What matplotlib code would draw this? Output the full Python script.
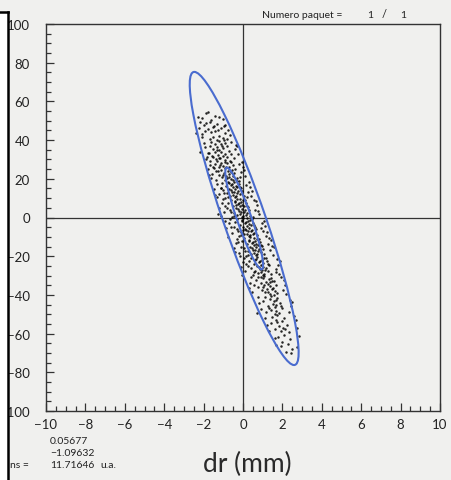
import numpy as np
import matplotlib.pyplot as plt
from matplotlib.patches import Ellipse, Rectangle
from matplotlib.lines import Line2D

plt.rcParams['font.family'] = ['Lato', 'DejaVu Sans']

# Points du nuage (dr en mm, y en u.a.) - coeur du nuage
pts_x = [-1.9, -1.4, -2.1, -1.6, -1.2, -1.8,
         -1.7, -1.3, -2.0, -1.5, -1.1, -1.8, -1.4, -1.6, -0.9, -2.1, -1.2, -1.5, -1.0, -1.7, -1.3, -1.9, -1.45, -1.25,
         -1.2, -1.6, -0.9, -1.4, -1.1, -1.7, -0.8, -1.3, -1.0, -1.5, -1.2, -0.7, -1.4, -1.1, -1.8, -0.9, -1.25, -1.0,
         -1.5, -0.8, -1.15, -1.35, -0.6, -1.05, -1.55, -0.95, -1.3, -1.2,
         -0.9, -1.3, -0.6, -1.1, -0.8, -1.4, -0.5, -1.0, -0.7, -1.2, -0.9, -0.4, -1.1, -0.75, -1.35, -0.6, -0.95, -0.7,
         -1.2, -0.5, -0.85, -1.05, -0.3, -0.8, -1.5, -0.65, -1.0, -0.55, -1.15, -0.85, -0.7, -1.25, -0.45, -0.9,
         -0.6, -0.9, -0.3, -0.75, -0.45, -1.05, -0.2, -0.6, -0.35, -0.85, -0.5, -0.1, -0.7, -0.4, -1.0, -0.25, -0.55,
         -0.3, -0.8, -0.15, -0.5, -0.65, 0.05, -0.4, -0.9, -0.2, -0.55, -1.1, -0.45, -0.35, -0.7, -0.15, -0.6, -0.75,
         -0.3, -0.95, -0.05, -0.5,
         -0.3, -0.6, 0.0, -0.4, -0.1, -0.75, 0.15, -0.25, -0.05, -0.5, -0.15, 0.25, -0.35, -0.05, -0.65, 0.1, -0.2,
         0.05, -0.45, 0.2, -0.15, -0.3, 0.35, -0.05, -0.55, 0.1, -0.2, -0.8, -0.1, 0.0, -0.4, 0.2, -0.25, -0.45, 0.05,
         -0.6, 0.3, -0.15, 0.15, -0.35,
         0.0, -0.3, 0.35, -0.05, 0.25, -0.4, 0.5, 0.1, 0.3, -0.15, 0.2, 0.6, 0.0, 0.3, -0.3, 0.45, 0.15, 0.4, -0.1,
         0.55, 0.2, 0.05, 0.7, 0.3, -0.2, 0.45, 0.15, -0.45, 0.25, 0.35, -0.05, 0.55, 0.1, -0.1, 0.4, -0.25, 0.65,
         0.2, 0.5, 0.0,
         0.35, 0.05, 0.7, 0.3, 0.6, -0.05, 0.85, 0.45, 0.65, 0.2, 0.55, 0.95, 0.35, 0.65, 0.05, 0.8, 0.5, 0.75, 0.25,
         0.9, 0.55, 0.4, 1.05, 0.65, 0.15, 0.8, 0.5, -0.1, 0.6, 0.7, 0.3, 0.9, 0.45, 0.25, 0.75, 0.1, 1.0, 0.55,
         0.7, 0.4, 1.05, 0.65, 0.95, 0.3, 1.2, 0.8, 1.0, 0.55, 0.9, 1.3, 0.7, 1.0, 0.4, 1.15, 0.85, 1.1, 0.6, 1.25,
         0.9, 0.75, 1.4, 1.0, 0.5, 1.15, 0.85, 0.25, 0.95, 1.05, 0.6, 1.25, 0.8, 0.55,
         1.05, 0.75, 1.4, 1.0, 1.3, 0.65, 1.55, 1.15, 1.35, 0.9, 1.25, 1.65, 1.05, 1.35, 0.75, 1.5, 1.2, 1.45, 0.95,
         1.6, 1.25, 1.1, 1.75, 1.35, 0.9, 1.45, 1.0, 1.55,
         1.4, 1.1, 1.75, 1.35, 1.65, 1.0, 1.9, 1.5, 1.7, 1.25, 1.6, 2.0, 1.4, 1.7, 1.15, 1.85, 1.55, 1.3, 1.95, 1.6,
         1.75, 1.45, 2.1, 1.7, 2.0, 1.4, 2.25, 1.85, 2.05, 1.6, 1.95, 2.35, 1.75, 2.15,
         2.1, 1.8, 2.4, 2.0, 2.3, 1.95, 2.5, 2.2]
pts_y = [53.8, 52.6, 51.2, 50.5, 51.9, 54.3,
         49.1, 48.4, 47.6, 46.9, 46.2, 45.5, 44.8, 44.1, 43.5, 43.0, 42.3, 41.7, 41.1, 40.6, 40.2, 48.8, 47.3, 45.0,
         39.6, 39.1, 38.7, 38.2, 37.8, 37.2, 36.9, 36.4, 35.9, 35.5, 35.0, 34.6, 34.1, 33.7, 33.3, 32.8, 32.4, 31.9,
         31.5, 31.1, 30.6, 30.2, 33.0, 37.0, 32.0, 39.8, 34.9, 30.9,
         29.7, 29.3, 28.9, 28.4, 28.0, 27.6, 27.2, 26.8, 26.3, 25.9, 25.5, 25.1, 24.7, 24.2, 23.8, 23.4, 23.0, 22.6,
         22.1, 21.7, 21.3, 20.9, 20.5, 20.2, 26.0, 29.1, 21.9, 24.6, 27.1, 26.0, 20.8, 24.0, 22.8, 28.7,
         19.7, 19.3, 18.9, 18.5, 18.1, 17.7, 17.3, 16.9, 16.5, 16.1, 15.7, 15.3, 14.9, 14.5, 14.1, 13.7, 13.3,
         12.9, 12.5, 12.1, 11.7, 11.3, 10.9, 10.5, 10.2, 19.0, 17.5, 15.0, 13.0, 11.0, 18.0, 16.0, 14.2, 10.7,
         15.9, 12.8, 13.9, 19.5,
         9.7, 9.3, 8.9, 8.5, 8.1, 7.7, 7.3, 6.9, 6.5, 6.1, 5.7, 5.3, 4.9, 4.5, 4.1, 3.7, 3.3,
         2.9, 2.5, 2.1, 1.7, 1.3, 0.9, 0.5, 0.2, 9.0, 7.5, 5.0, 3.0, 1.0, 8.0, 6.0, 4.2, 0.7, 5.9,
         2.8, 3.9, 9.5, 1.5, 6.6,
         -0.3, -0.7, -1.1, -1.5, -1.9, -2.3, -2.7, -3.1, -3.5, -3.9, -4.3, -4.7, -5.1, -5.5, -5.9, -6.3, -6.7, -7.1, -7.5,
         -7.9, -8.3, -8.7, -9.1, -9.5, -9.8, -1.0, -2.5, -5.0, -7.0, -9.0, -2.0, -4.0, -5.8, -9.3, -4.1, -7.2, -6.1,
         -0.5, -8.5, -6.6,
         -10.3, -10.7, -11.1, -11.5, -11.9, -12.3, -12.7, -13.1, -13.5, -13.9, -14.3, -14.7, -15.1, -15.5, -15.9,
         -16.3, -16.7, -17.1, -17.5, -17.9, -18.3, -18.7, -19.1, -19.5, -19.8, -11.0, -12.5, -15.0, -17.0, -19.0,
         -12.0, -14.0, -15.8, -19.3, -14.1, -17.2, -16.1, -10.5,
         -20.3, -20.7, -21.1, -21.5, -21.9, -22.3, -22.7, -23.1, -23.5, -23.9, -24.3, -24.7, -25.1, -25.5, -25.9,
         -26.3, -26.7, -27.1, -27.5, -27.9, -28.3, -28.7, -29.1, -29.5, -29.8, -21.0, -22.5, -25.0, -27.0, -29.0,
         -22.0, -24.0, -25.8, -28.3,
         -30.3, -30.7, -31.1, -31.5, -31.9, -32.3, -32.7, -33.1, -33.5, -33.9, -34.3, -34.7, -35.1, -35.5, -35.9,
         -36.3, -36.7, -37.1, -37.5, -37.9, -38.3, -38.7, -39.1, -39.5, -31.0, -33.0, -36.0, -39.8,
         -40.4, -41.0, -41.6, -42.2, -42.8, -43.4, -44.0, -44.6, -45.2, -45.8, -46.4, -47.0, -47.6, -48.2, -48.8,
         -49.4, -43.0, -46.9, -45.5, -49.8,
         -50.5, -51.3, -52.1, -52.9, -53.7, -54.5, -55.3, -56.1, -56.9, -57.7, -58.5, -59.3, -54.0, -57.8,
         -60.6, -61.8, -63.0, -64.2, -65.4, -66.6, -67.8, -69.3]

# Points du bord du nuage (plus eloignes de l'axe du nuage)
bord_x = [-2.3, -1.0, -2.2, -0.9,
          -2.25, -0.75, -2.4, -0.65, -2.1, -0.8, -1.95, -0.95,
          -2.0, -0.35, -1.95, -0.4, -2.2, -0.25, -1.85, -0.45, -1.75, -0.6, -1.9, -0.3,
          -1.7, -0.05, -1.65, 0.0, -1.8, -0.1, -1.55, 0.1, -1.6, -0.2, -1.45, 0.05, -1.75, -0.15,
          -1.35, 0.3, -1.3, 0.35, -1.45, 0.25, -1.2, 0.4, -1.3, 0.15, -1.1, 0.45, -1.4, 0.2,
          -1.0, 0.65, -1.05, 0.7, -1.2, 0.6, -0.95, 0.8, -1.1, 0.55, -0.9, 0.75, -1.25, 0.5,
          -0.65, 1.05, -0.7, 1.1, -0.85, 1.0, -0.55, 1.15, -0.75, 0.95, -0.6, 1.2, -0.9, 0.9,
          -0.3, 1.4, -0.35, 1.45, -0.45, 1.35, -0.2, 1.5, -0.25, 1.3, -0.4, 1.55, -0.15, 1.25,
          0.05, 1.75, 0.0, 1.8, -0.1, 1.7, 0.1, 1.85, 0.15, 1.65, -0.05, 1.9,
          0.4, 2.1, 0.35, 2.15, 0.3, 2.05, 0.45, 2.2, 0.55, 1.95,
          0.75, 2.4, 0.8, 2.45, 0.9, 2.35, 0.7, 2.5,
          1.1, 2.7, 1.2, 2.75, 1.3, 2.6,
          1.6, 2.85, 1.7, 2.75, 2.45]
bord_y = [52.0, 50.8, 49.5, 48.0,
          46.5, 45.3, 43.8, 42.6, 41.4, 40.8, 44.5, 47.4,
          38.5, 37.6, 36.2, 35.2, 34.0, 32.6, 31.4, 30.5, 33.2, 39.2, 30.1, 36.8,
          29.4, 28.6, 27.3, 26.1, 24.9, 23.6, 22.4, 21.2, 20.4, 27.8, 25.6, 24.4, 21.8, 20.9,
          19.2, 18.4, 17.1, 15.8, 14.6, 13.4, 12.2, 11.1, 10.4, 16.9, 15.4, 13.9, 11.8, 10.8,
          9.6, 8.7, 7.4, 6.3, 5.1, 4.0, 2.7, 1.6, 0.6, 9.1, 6.0, 3.2, 1.9, 0.3,
          -0.8, -1.7, -3.0, -4.4, -5.6, -6.9, -8.1, -9.4, -9.9, -2.6, -4.8, -7.6, -1.9, -5.2,
          -10.9, -11.8, -13.2, -14.5, -15.7, -16.9, -18.2, -19.4, -12.6, -10.6, -17.6, -15.2, -19.9, -13.8,
          -20.8, -21.7, -23.0, -24.3, -25.4, -26.6, -27.8, -29.2, -24.0, -28.0, -29.5, -22.6,
          -30.9, -32.1, -33.6, -34.9, -36.2, -37.4, -38.6, -39.6, -35.0, -30.5,
          -41.3, -42.5, -44.3, -45.9, -47.3, -48.6, -49.5, -43.7,
          -51.8, -53.1, -55.7, -57.2, -58.9, -51.0,
          -62.4, -61.2, -65.9, -66.9, -70.2]

# Parametres de l'ellipse
centre = (0.06, -0.5)
sigma_x = 0.96
sigma_y = 26.3
rho = -0.915
niveaux = [1.0, 2.88]

# valeurs affichees en bas
val_lignes = ['0.05677', '\u22121.09632', '11.71646']

fond = '#f0f0ee'
bleu = '#4a6ccf'
gris = '#333333'

fig = plt.figure(figsize=(4.52, 4.81), dpi=100, facecolor=fond)
ax = fig.add_axes([46/452, 69/481, 394/452, 387/481], facecolor=fond)

ax.scatter(pts_x + bord_x, pts_y + bord_y, s=3.2, c='black', linewidths=0, alpha=0.85, zorder=3)

# ellipses a partir de la matrice de covariance
cov = np.array([[sigma_x**2, rho*sigma_x*sigma_y],
                [rho*sigma_x*sigma_y, sigma_y**2]])
vals, vecs = np.linalg.eigh(cov)
angle = np.degrees(np.arctan2(vecs[1, 0], vecs[0, 0]))
for k in niveaux:
    e = Ellipse(centre, 2*k*np.sqrt(vals[0]), 2*k*np.sqrt(vals[1]), angle=angle,
                fill=False, edgecolor=bleu, lw=1.5, zorder=4)
    ax.add_patch(e)

ax.axhline(0, color=gris, lw=0.9, zorder=2)
ax.axvline(0, color=gris, lw=0.9, zorder=2)

ax.set_xlim(-10, 10)
ax.set_ylim(-100, 100)
ax.set_xticks(np.arange(-10, 11, 2))
ax.set_xticks(np.arange(-10, 10.1, 0.5), minor=True)
ax.set_yticks(np.arange(-100, 101, 20))
ax.set_yticks(np.arange(-100, 101, 5), minor=True)
ax.set_xticklabels(['\u2212%d' % -v if v < 0 else '%d' % v for v in range(-10, 11, 2)])
ax.set_yticklabels(['\u2212%d' % -v if v < 0 else '%d' % v for v in range(-100, 101, 20)])
ax.tick_params(which='both', direction='in', top=False, right=False, color=gris, width=0.9)
ax.tick_params(which='major', length=6)
ax.tick_params(which='minor', length=3.5)
ax.tick_params(axis='x', which='major', labelsize=9.5, pad=5, labelcolor='#222222')
ax.tick_params(axis='y', which='major', labelsize=9.5, pad=11.5, labelcolor='#222222')
for s in ax.spines.values():
    s.set_color(gris)
    s.set_linewidth(1.0)

# textes autour
fig.text(262/452, 1 - 15/481, 'Numero paquet =', fontsize=7.5, va='center', color='#222222')
fig.text(370/452, 1 - 15/481, '1', fontsize=7.5, va='center', ha='center', color='#222222')
fig.text(384/452, 1 - 15/481, '/', fontsize=8, va='center', ha='center', color='#222222')
fig.text(403/452, 1 - 15/481, '1', fontsize=7.5, va='center', ha='center', color='#222222')

for i, t in enumerate(val_lignes):
    fig.text(50/452, 1 - (442 + 12*i)/481, t, fontsize=7.5, va='center', color='#222222')
fig.text(100/452, 1 - 466/481, 'u.a.', fontsize=7.5, va='center', color='#222222')
fig.text(10/452, 1 - 466/481, 'ns =', fontsize=7.5, va='center', color='#222222')
fig.text(247/452, 1 - 464/481, 'dr (mm)', fontsize=19, va='center', ha='center', color='#2a2a2a')

# bord noir du scan a gauche
fig.add_artist(Rectangle((0, 0), 8/452, 1 - 13/481, transform=fig.transFigure,
                         facecolor='white', edgecolor='none', zorder=5))
fig.add_artist(Line2D([8/452, 8/452], [0, 1 - 13/481], transform=fig.transFigure,
                      color='black', lw=1.8, zorder=6))
fig.add_artist(Line2D([0, 8/452], [1 - 13/481, 1 - 13/481], transform=fig.transFigure,
                      color='black', lw=1.8, zorder=6))

fig.savefig('out.png', dpi=100, facecolor=fond)
